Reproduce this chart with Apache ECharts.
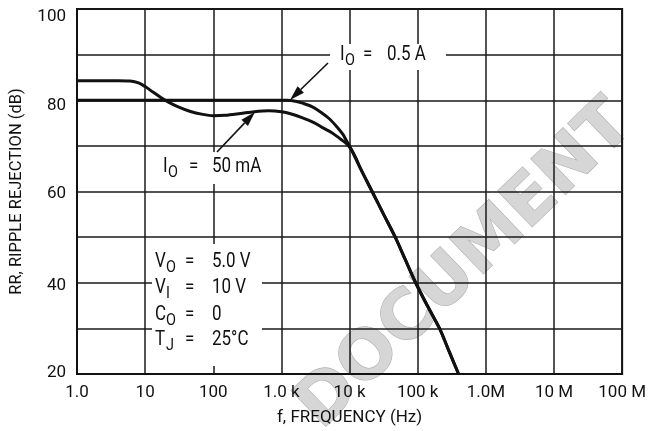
<!DOCTYPE html>
<html>
<head>
<meta charset="utf-8">
<script src="https://cdn.jsdelivr.net/npm/echarts@6/dist/echarts.min.js"></script>
<style>
    html, body { margin: 0; padding: 0; background: #fff; }
    #chart { width: 649px; height: 431px; }
</style>
</head>
<body>
<div id="chart"></div>
<script>
// tick labels
const xTickLabels = ['1.0', '10', '100', '1.0 k', '10 k', '100 k', '1.0M', '10 M', '100 M']
const yTickLabels = [20, 40, 60, 80, 100]

// Io = 50 mA curve (Hz, dB)
const freq50mA = [1, 2, 4, 6, 8, 10, 13, 17, 22, 30, 45, 70, 100, 150, 250, 400, 650, 1000, 1400, 2000, 3000, 4000, 5500, 7500, 9000, 10500, 12500,
    14500, 21400, 31600, 46800, 66000, 93300, 138000, 209000, 288000, 398000]
const rr50mA = [84.3, 84.3, 84.3, 84.2, 83.8, 83.0, 81.8, 80.6, 79.6, 78.6, 77.6, 76.9, 76.6, 76.7, 77.1, 77.5, 77.7, 77.5, 77.0, 76.2, 75.1, 74.0, 72.9, 71.4, 70.5, 69.3, 67.2,
    65, 60, 55, 50, 45, 40, 35, 30, 25, 20]

// Io = 0.5 A curve (Hz, dB)
const freq05A = [1, 1200, 1600, 2100, 2800, 3700, 5000, 6500, 8000, 9100, 10000, 12500,
    14500, 21400, 31600, 46800, 66000, 93300, 138000, 209000, 288000, 398000]
const rr05A = [80, 80, 79.8, 79.3, 78.6, 77.5, 76.0, 74.2, 72.5, 71.0, 70, 67,
    65, 60, 55, 50, 45, 40, 35, 30, 25, 20]

const FONT = 'Roboto'

const myChart = echarts.init(document.getElementById('chart'))

function pairs(xs, ys) {
    return xs.map((x, i) => [x, ys[i]])
}

//y labels sit a bit off their grid lines in the original
const yLabelRich = {
    v100: { padding: [16, 0, 0, 0] },
    v80: { padding: [10, 0, 0, 0] },
    v60: { padding: [5, 0, 0, 0] },
    v40: { padding: [5, 0, 0, 0] },
    v20: { padding: [0, 0, 3, 0] }
}

//subscripted labels
const labels = [
    { main: 'I', sub: 'O', x: 340, eqX: 363, valX: 387, y: 55, val: '0.5 A' },
    { main: 'I', sub: 'O', x: 163, eqX: 189, valX: 212, y: 167, val: '50 mA' },
    { main: 'V', sub: 'O', x: 155, eqX: 185, valX: 212, y: 262, val: '5.0 V' },
    { main: 'V', sub: 'I', x: 155, eqX: 185, valX: 212, y: 288, val: '10 V' },
    { main: 'C', sub: 'O', x: 155, eqX: 185, valX: 212, y: 315, val: '0' },
    { main: 'T', sub: 'J', x: 155, eqX: 185, valX: 212, y: 340, val: '25°C' }
]

const graphics = []

//watermark, under everything
graphics.push({
    type: 'text', z: -1,
    x: 466, y: 266, rotation: 44 * Math.PI / 180,
    style: {
        text: 'DOCUMENT', fontSize: 68, fontFamily: 'DejaVu Sans', fontWeight: 'bold',
        fill: '#d6d6d6', stroke: '#b0b0b0', lineWidth: 1.2,
        align: 'center', verticalAlign: 'middle'
    }
})

//white boxes that cut the grid under the texts
const boxes = [
    [330, 44, 116, 26],
    [150, 152, 120, 32],
    [152, 244, 110, 122]
]
boxes.forEach(b => {
    graphics.push({
        type: 'rect', z: 1,
        shape: { x: b[0], y: b[1], width: b[2], height: b[3] },
        style: { fill: '#fff' }
    })
})

function txt(x, y, text, size) {
    return {
        type: 'text', z: 5, x: x, y: y, scaleX: 0.85,
        style: { text: text, fontSize: size, fontFamily: FONT, fill: '#111', verticalAlign: 'middle' }
    }
}

labels.forEach(l => {
    const mainWidth = l.main === 'I' ? 5 : 11
    graphics.push(txt(l.x, l.y, l.main, 20))
    graphics.push(txt(l.x + mainWidth, l.y + 6, l.sub, 17))
    graphics.push(txt(l.eqX, l.y, '=', 20))
    graphics.push(txt(l.valX, l.y, l.val, 20))
})

//arrows: [fromX, fromY, tipX, tipY]
const arrows = [
    [328, 63, 290, 100],
    [217, 152, 255, 112]
]
arrows.forEach(a => {
    const ang = Math.atan2(a[3] - a[1], a[2] - a[0])
    const len = 15, half = 4.5
    const bx = a[2] - len * Math.cos(ang), by = a[3] - len * Math.sin(ang)
    graphics.push({
        type: 'line', z: 5,
        shape: { x1: a[0], y1: a[1], x2: bx, y2: by },
        style: { stroke: '#111', lineWidth: 1.6 }
    })
    graphics.push({
        type: 'polygon', z: 5,
        shape: {
            points: [
                [a[2], a[3]],
                [bx + half * Math.sin(ang), by - half * Math.cos(ang)],
                [bx - half * Math.sin(ang), by + half * Math.cos(ang)]
            ]
        },
        style: { fill: '#111' }
    })
})

myChart.setOption({
    animation: false,
    backgroundColor: '#fff',
    grid: {
        left: 69,
        right: 18,
        top: 9,
        bottom: 54,
        show: true,
        borderColor: '#111',
        borderWidth: 2
    },
    xAxis: {
        type: 'log',
        logBase: 10,
        min: 1,
        max: 1e8,
        splitNumber: 8,
        name: 'f, FREQUENCY (Hz)',
        nameLocation: 'middle',
        nameGap: 35,
        nameTextStyle: { fontSize: 17, fontFamily: FONT, color: '#111' },
        axisLine: { show: true, lineStyle: { color: '#111', width: 2 } },
        axisTick: { show: false },
        axisLabel: {
            margin: 10,
            fontSize: 17,
            fontFamily: FONT,
            color: '#111',
            formatter: v => xTickLabels[Math.round(Math.log10(v))]
        },
        splitLine: { show: true, lineStyle: { color: '#1a1a1a', width: 1.5 } }
    },
    yAxis: {
        type: 'value',
        min: 20,
        max: 100,
        interval: 10,
        name: 'RR, RIPPLE REJECTION (dB)',
        nameLocation: 'middle',
        nameGap: 52,
        nameTextStyle: { fontSize: 16.5, fontFamily: FONT, color: '#111' },
        axisLine: { show: true, lineStyle: { color: '#111', width: 2 } },
        axisTick: { show: false },
        axisLabel: {
            margin: 11,
            fontSize: 17,
            fontFamily: FONT,
            color: '#111',
            rich: yLabelRich,
            formatter: v => yTickLabels.includes(v) ? '{v' + v + '|' + v + '}' : ''
        },
        splitLine: { show: true, lineStyle: { color: '#1a1a1a', width: 1.5 } }
    },
    series: [
        {
            name: 'IO = 50 mA',
            type: 'line',
            data: pairs(freq50mA, rr50mA),
            showSymbol: false,
            smooth: 0.3,
            lineStyle: { color: '#111', width: 3 },
            z: 3
        },
        {
            name: 'IO = 0.5 A',
            type: 'line',
            data: pairs(freq05A, rr05A),
            showSymbol: false,
            smooth: 0.3,
            lineStyle: { color: '#111', width: 3 },
            z: 3
        }
    ],
    graphic: graphics
})
</script>
</body>
</html>
